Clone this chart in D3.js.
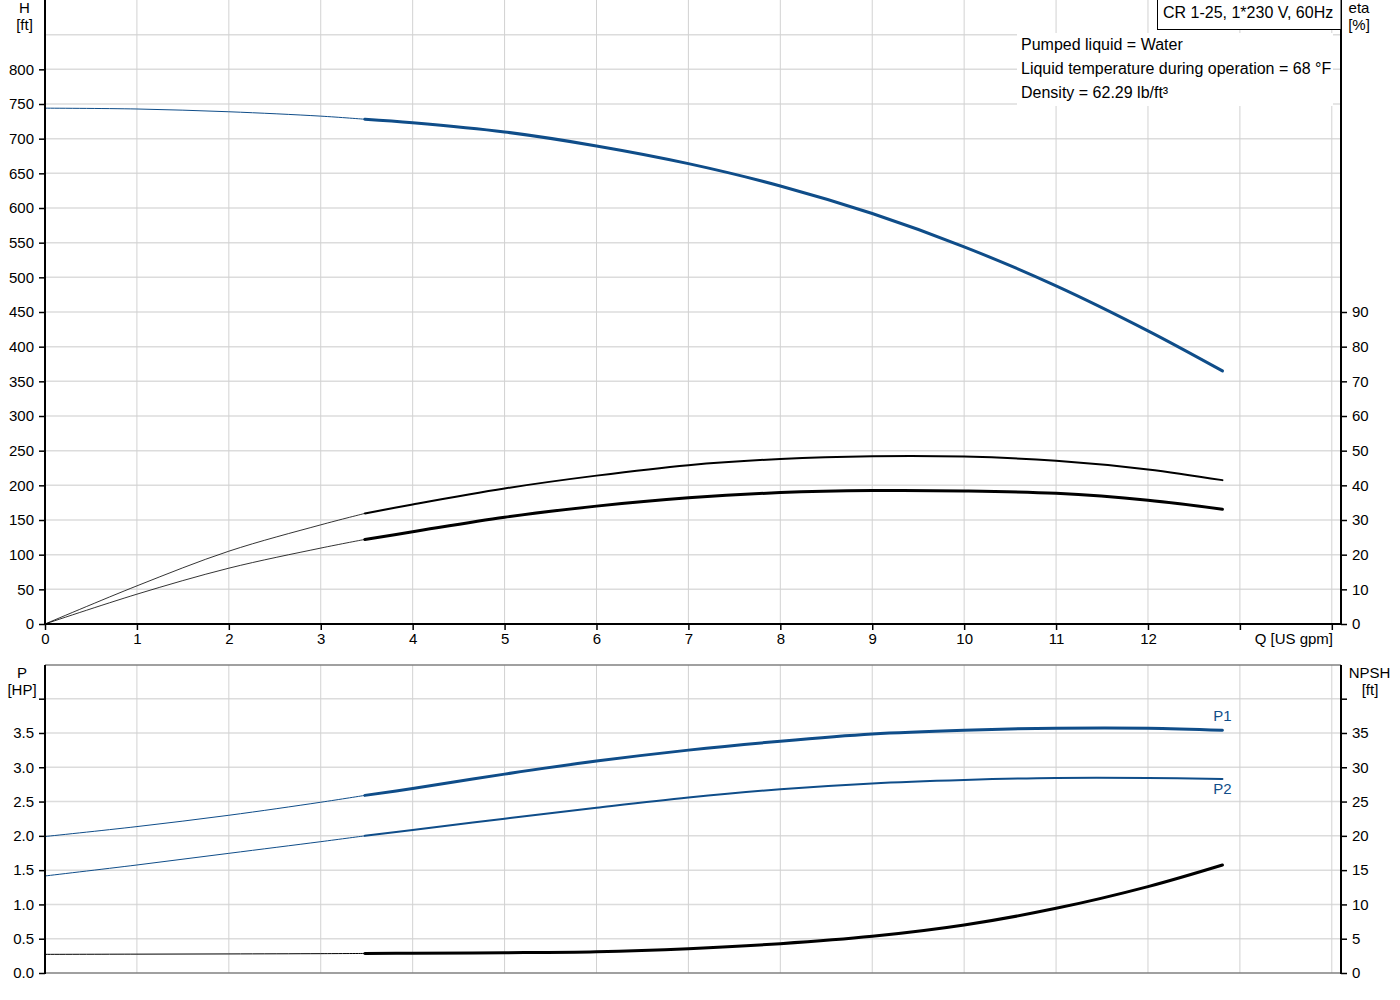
<!DOCTYPE html>
<html><head><meta charset="utf-8">
<script src="https://cdn.jsdelivr.net/npm/d3@7"></script>
<style>body{margin:0;background:#fff}svg{display:block;font-family:"Liberation Sans",Arial,sans-serif}</style>
</head><body><svg id="c" width="1400" height="1000"></svg>
<script>
// ---------- data ----------
const qThin  = [0, 1, 2, 3, 3.48];
const qThick = [3.48, 4, 5, 6, 7, 8, 9, 10, 11, 12, 12.81];
const hThin  = [744, 742.8, 738.8, 732.5, 728];
const hThick = [728, 723, 709.7, 689.5, 664, 631.8, 592, 544, 487.7, 422.8, 365];
const eta1Thin  = [0, 11, 21, 28.6, 31.9];
const eta1Thick = [31.9, 34.5, 39.1, 42.8, 45.8, 47.6, 48.4, 48.3, 47.1, 44.6, 41.5];
const eta2Thin  = [0, 8.6, 16.1, 21.9, 24.4];
const eta2Thick = [24.4, 26.6, 30.8, 34.0, 36.4, 37.9, 38.5, 38.4, 37.7, 35.7, 33.1];
const p1Thin  = [1.99, 2.135, 2.3, 2.49, 2.59];
const p1Thick = [2.59, 2.69, 2.90, 3.09, 3.25, 3.38, 3.485, 3.54, 3.57, 3.57, 3.54];
const p2Thin  = [1.415, 1.575, 1.745, 1.915, 2.00];
const p2Thick = [2.00, 2.085, 2.25, 2.41, 2.56, 2.68, 2.765, 2.815, 2.845, 2.845, 2.83];
const npshThin  = [2.72, 2.75, 2.78, 2.82, 2.85];
const npshThick = [2.85, 2.88, 2.95, 3.1, 3.55, 4.28, 5.35, 7.0, 9.43, 12.6, 15.75];

const qTicks = [0,1,2,3,4,5,6,7,8,9,10,11,12,13,14];
const qLabels = ["0","1","2","3","4","5","6","7","8","9","10","11","12","",""];
const hTicks = d3.range(0, 851, 50);
const etaTicks = d3.range(0, 91, 10);
const pTicks = [0,0.5,1,1.5,2,2.5,3,3.5,4];
const npshTicks = [0,5,10,15,20,25,30,35,40];
const infoLines = ["Pumped liquid = Water", "Liquid temperature during operation = 68 °F", "Density = 62.29 lb/ft³"];
const titleText = "CR 1-25, 1*230 V, 60Hz";

// ---------- scales ----------
const svg = d3.select("#c");
const X0 = 45, X1 = 1341;
const x = d3.scaleLinear().domain([0, 14.1]).range([X0, X1]);
const yH = d3.scaleLinear().domain([0, 900]).range([624, 0]);
const yEta = d3.scaleLinear().domain([0, 180]).range([624, 0]);
const yP = d3.scaleLinear().domain([0, 4.5]).range([973, 664.4]);
const yN = d3.scaleLinear().domain([0, 45]).range([973, 664.4]);
const BLUE = "#0f4d89";

// ---------- grids ----------
function grid(yScale, yTicks, top, bottom) {
  const g = svg.append("g");
  g.selectAll(".h").data(yTicks.filter(d => d > 0)).join("line")
    .attr("x1", X0).attr("x2", X1)
    .attr("y1", d => yScale(d)).attr("y2", d => yScale(d))
    .attr("stroke", "#dcdcdc").attr("stroke-width", 1.5);
  g.selectAll(".v").data(qTicks.filter(d => d > 0)).join("line")
    .attr("x1", d => x(d)).attr("x2", d => x(d))
    .attr("y1", top).attr("y2", bottom)
    .attr("stroke", "#d2d2d2").attr("stroke-width", 1);
}
grid(yH, hTicks, 0, 624);
grid(yP, pTicks, 665, 973);

// info box (covers grid)
svg.append("rect").attr("x", 1017).attr("y", 33).attr("width", 316).attr("height", 73).attr("fill", "#fff");
svg.append("g").selectAll("text").data(infoLines).join("text")
  .attr("x", 1021).attr("y", (d, i) => 50 + i * 24)
  .attr("font-size", 16).attr("fill", "#000").text(d => d);

// ---------- curves ----------
function curve(qs, vs, yScale, color, width) {
  const line = d3.line().x(d => x(d[0])).y(d => yScale(d[1])).curve(d3.curveCatmullRom.alpha(0.5));
  svg.append("path").datum(qs.map((q, i) => [q, vs[i]]))
    .attr("d", line).attr("fill", "none").attr("stroke", color)
    .attr("stroke-width", width).attr("stroke-linecap", "round");
}
curve(qThin, hThin, yH, BLUE, 1);
curve(qThick, hThick, yH, BLUE, 3);
curve(qThin, eta1Thin, yEta, "#000", 0.8);
curve(qThick, eta1Thick, yEta, "#000", 2);
curve(qThin, eta2Thin, yEta, "#000", 0.8);
curve(qThick, eta2Thick, yEta, "#000", 3);
curve(qThin, p1Thin, yP, BLUE, 1);
curve(qThick, p1Thick, yP, BLUE, 3);
curve(qThin, p2Thin, yP, BLUE, 1);
curve(qThick, p2Thick, yP, BLUE, 2);
curve(qThin, npshThin, yN, "#000", 1);
curve(qThick, npshThick, yN, "#000", 3);

// curve labels
svg.append("text").attr("x", x(qThick[qThick.length-1])).attr("y", 721).attr("text-anchor", "middle")
  .attr("font-size", 15).attr("fill", BLUE).text("P1");
svg.append("text").attr("x", x(qThick[qThick.length-1])).attr("y", 794).attr("text-anchor", "middle")
  .attr("font-size", 15).attr("fill", BLUE).text("P2");

// ---------- axes ----------
function styleAxis(g) {
  g.select(".domain").remove();
  g.selectAll(".tick line").attr("stroke", "#000").attr("stroke-width", 1.5);
  g.selectAll("text").attr("font-size", 15).attr("fill", "#000").attr("font-family", '"Liberation Sans",Arial,sans-serif');
}
// top plot
svg.append("g").attr("transform", `translate(${X0},0)`)
  .call(d3.axisLeft(yH).tickValues(hTicks.filter(d => d <= 800)).tickSize(6).tickPadding(5).tickFormat(d3.format("d")))
  .call(styleAxis);
svg.append("g").attr("transform", `translate(${X1},0)`)
  .call(d3.axisRight(yEta).tickValues(etaTicks).tickSize(6).tickPadding(5).tickFormat(d3.format("d")))
  .call(styleAxis);
svg.append("g").attr("transform", "translate(0,624)")
  .call(d3.axisBottom(x).tickValues(qTicks).tickSize(6).tickPadding(3).tickFormat((d, i) => qLabels[i]))
  .call(styleAxis);
svg.append("line").attr("x1", X0).attr("x2", X0).attr("y1", 0).attr("y2", 625).attr("stroke", "#000").attr("stroke-width", 2);
svg.append("line").attr("x1", X1).attr("x2", X1).attr("y1", 0).attr("y2", 625).attr("stroke", "#000").attr("stroke-width", 2);
svg.append("line").attr("x1", X0).attr("x2", X1).attr("y1", 624).attr("y2", 624).attr("stroke", "#000").attr("stroke-width", 2);

// bottom plot
svg.append("g").attr("transform", `translate(${X0},0)`)
  .call(d3.axisLeft(yP).tickValues(pTicks).tickSize(6).tickPadding(5).tickFormat(d => d >= 4 ? "" : d3.format(".1f")(d)))
  .call(styleAxis);
svg.append("g").attr("transform", `translate(${X1},0)`)
  .call(d3.axisRight(yN).tickValues(npshTicks).tickSize(6).tickPadding(5).tickFormat(d => d >= 40 ? "" : d3.format("d")(d)))
  .call(styleAxis);
svg.append("line").attr("x1", X0).attr("x2", X1).attr("y1", 665).attr("y2", 665).attr("stroke", "#808080").attr("stroke-width", 1.5);
svg.append("line").attr("x1", X0).attr("x2", X1).attr("y1", 973).attr("y2", 973).attr("stroke", "#808080").attr("stroke-width", 1.5);
svg.append("line").attr("x1", X0).attr("x2", X0).attr("y1", 665).attr("y2", 974).attr("stroke", "#000").attr("stroke-width", 2);
svg.append("line").attr("x1", X1).attr("x2", X1).attr("y1", 665).attr("y2", 974).attr("stroke", "#000").attr("stroke-width", 2);

// axis titles
function label(t, xx, yy, anchor) {
  svg.append("text").attr("x", xx).attr("y", yy).attr("text-anchor", anchor || "middle")
    .attr("font-size", 15).attr("fill", "#000").text(t);
}
label("H", 24.5, 13); label("[ft]", 24.5, 30);
label("eta", 1359, 13); label("[%]", 1359, 30);
label("P", 22, 678); label("[HP]", 22, 695);
label("NPSH", 1369.5, 678); label("[ft]", 1370, 695);
label("Q [US gpm]", 1333, 644, "end");

// title box
svg.append("rect").attr("x", 1157.5).attr("y", -1).attr("width", 183.5).attr("height", 30.5)
  .attr("fill", "#fff").attr("stroke", "#000").attr("stroke-width", 1);
svg.append("text").attr("x", 1163).attr("y", 17.5).attr("font-size", 16).attr("fill", "#000").text(titleText);
</script></body></html>
